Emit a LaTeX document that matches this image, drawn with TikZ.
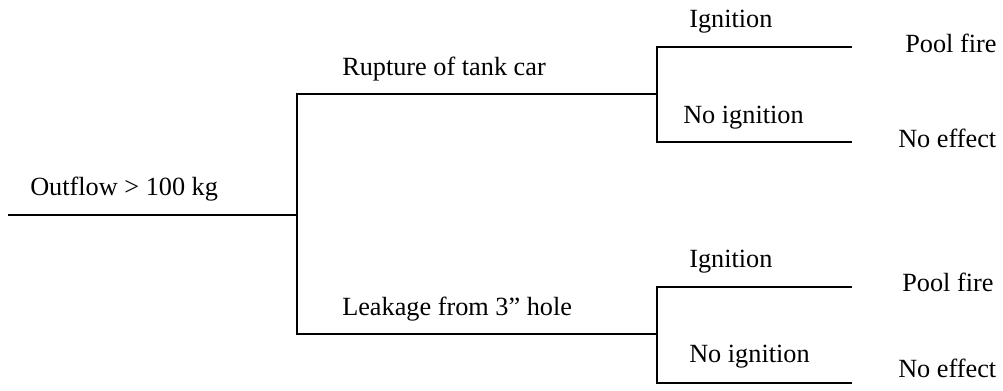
\documentclass[tikz,border=0pt]{standalone}
\usepackage{fontspec}
\setmainfont{Liberation Serif}
\begin{document}
\begin{tikzpicture}[x=0.75pt,y=-0.75pt,
  branch/.style={line width=1.3pt,line cap=rect},
  lbl/.style={anchor=base west,inner sep=0pt,font=\fontsize{19.7}{24}\selectfont}]
\useasboundingbox (0,0) rectangle (1003,390);

% tree junctions and branch ends
\coordinate (root) at (9,215);
\coordinate (j0) at (297,215);
\coordinate (rtop) at (297,94);
\coordinate (rbot) at (297,334);
\coordinate (j1) at (657,94);
\coordinate (j2) at (657,334);
\coordinate (a1) at (657,47);
\coordinate (b1) at (657,142);
\coordinate (a1e) at (851,47);
\coordinate (b1e) at (851,142);
\coordinate (a2) at (657,287);
\coordinate (b2) at (657,383);
\coordinate (a2e) at (851,287);
\coordinate (b2e) at (851,383);

% connectors
\draw[branch] (root) -- (j0);
\draw[branch] (rtop) -- (rbot);
\draw[branch] (rtop) -- (j1);
\draw[branch] (rbot) -- (j2);
\draw[branch] (a1) -- (b1);
\draw[branch] (a1) -- (a1e);
\draw[branch] (b1) -- (b1e);
\draw[branch] (a2) -- (b2);
\draw[branch] (a2) -- (a2e);
\draw[branch] (b2) -- (b2e);

% labels
\node[lbl] (outflow) at (30,195) {Outflow > 100 kg};
\node[lbl] (rupture) at (342,75) {Rupture of tank car};
\node[lbl] (leak) at (342,315) {Leakage from 3” hole};
\node[lbl] (ign1) at (689,27) {Ignition};
\node[lbl] (noign1) at (683,123) {No ignition};
\node[lbl] (ign2) at (689,267) {Ignition};
\node[lbl] (noign2) at (689,362) {No ignition};
\node[lbl] (fire1) at (905,52) {Pool fire};
\node[lbl] (noeff1) at (898,147) {No effect};
\node[lbl] (fire2) at (902,291) {Pool fire};
\node[lbl] (noeff2) at (898,377) {No effect};
\end{tikzpicture}
\end{document}
